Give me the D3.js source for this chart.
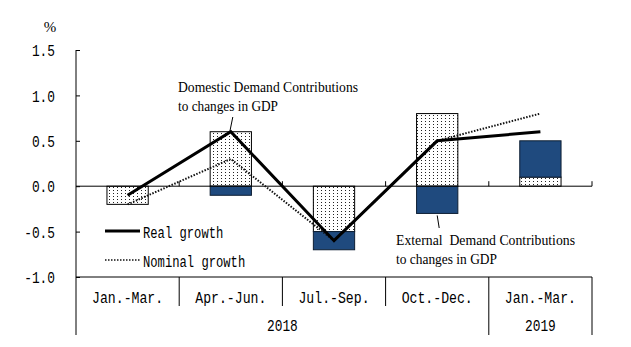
<!DOCTYPE html>
<html>
<head>
<meta charset="utf-8">
<script src="https://cdn.jsdelivr.net/npm/d3@7"></script>
<style>
  body { margin: 0; background: #fff; }
  svg { display: block; }
</style>
</head>
<body>
<svg id="chart" width="631" height="347"></svg>
<script>
// quarters along the bottom, with the year each belongs to
var quarters = ["Jan.-Mar.", "Apr.-Jun.", "Jul.-Sep.", "Oct.-Dec.", "Jan.-Mar."];
var years = ["2018", "2018", "2018", "2018", "2019"];

// contributions to GDP growth (%)
var domestic = [-0.2, 0.6, -0.5, 0.8, 0.1];
var external = [0.0, -0.1, -0.2, -0.3, 0.4];

// growth rates (%)
var realGrowth = [-0.1, 0.6, -0.6, 0.5, 0.6];
var nominalGrowth = [-0.2, 0.3, -0.6, 0.5, 0.8];

var yTicks = [-1.0, -0.5, 0.0, 0.5, 1.0, 1.5];

var svg = d3.select("#chart");
var keys = quarters.map(function (q, i) { return i; });

var x = d3.scaleBand()
    .domain(keys)
    .range([76, 592])
    .paddingInner(0.6)
    .paddingOuter(0.3);

var y = d3.scaleLinear()
    .domain([-1.0, 1.5])
    .range([277, 50]);

var monoFont = "'Liberation Mono', 'DejaVu Sans Mono', monospace";
var serifFont = "'Liberation Serif', 'DejaVu Serif', serif";

// squeezed mono text, a bit like the half-width Mincho of the original
function mono(sel, charW) {
    sel.attr("font-family", monoFont)
        .attr("font-size", 16)
        .attr("lengthAdjust", "spacingAndGlyphs")
        .attr("textLength", function (d) {
            var t = d3.select(this).text();
            return t.length * charW;
        });
}

// dotted fill for the domestic bars
var defs = svg.append("defs");
var pat = defs.append("pattern")
    .attr("id", "dots")
    .attr("width", 4)
    .attr("height", 3)
    .attr("patternUnits", "userSpaceOnUse");
pat.append("rect").attr("width", 4).attr("height", 3).attr("fill", "#fff");
pat.append("rect").attr("x", 1).attr("y", 1).attr("width", 1).attr("height", 1).attr("fill", "#222");

// stacked bars
var rows = keys.map(function (i) {
    return { key: i, domestic: domestic[i], external: external[i] };
});
var series = d3.stack()
    .keys(["domestic", "external"])
    .offset(d3.stackOffsetDiverging)(rows);

var fills = { domestic: "url(#dots)", external: "#1f4a7e" };

series.forEach(function (s) {
    svg.append("g")
        .selectAll("rect")
        .data(s.filter(function (d) { return d[1] !== d[0]; }))
        .enter()
        .append("rect")
        .attr("x", function (d) { return x(d.data.key); })
        .attr("width", x.bandwidth())
        .attr("y", function (d) { return y(Math.max(d[0], d[1])); })
        .attr("height", function (d) { return Math.abs(y(d[0]) - y(d[1])); })
        .attr("fill", fills[s.key])
        .attr("stroke", s.key === "external" ? "#0d1e33" : "#000")
        .attr("stroke-width", 1);
});

// y axis
var yAxis = d3.axisLeft(y)
    .tickValues(yTicks)
    .tickSize(-4)
    .tickSizeOuter(0)
    .tickPadding(21)
    .tickFormat(function (d) { return d.toFixed(1); });

var ga = svg.append("g")
    .attr("transform", "translate(76,0)")
    .call(yAxis);
ga.select(".domain").remove();
ga.selectAll("line").attr("stroke", "#000");
ga.selectAll("text")
    .attr("fill", "#000")
    .attr("dy", "0.35em")
    .call(mono, 7.7);

svg.append("text")
    .attr("x", 50)
    .attr("y", 32)
    .attr("text-anchor", "middle")
    .attr("font-family", serifFont)
    .attr("font-size", 15)
    .text("%");

// frame lines
var step = x.step();
var x0 = x.range()[0];
var bounds = d3.range(quarters.length + 1).map(function (i) { return x0 + i * step; });

svg.append("line")
    .attr("x1", x0).attr("x2", x0)
    .attr("y1", y(1.5)).attr("y2", 335)
    .attr("stroke", "#000");

// zero line with small ticks at quarter boundaries
svg.append("line")
    .attr("x1", x0).attr("x2", bounds[bounds.length - 1])
    .attr("y1", y(0)).attr("y2", y(0))
    .attr("stroke", "#000");
svg.append("g")
    .selectAll("line")
    .data(bounds.slice(1))
    .enter()
    .append("line")
    .attr("x1", function (d) { return d; })
    .attr("x2", function (d) { return d; })
    .attr("y1", y(0))
    .attr("y2", y(0) - 5)
    .attr("stroke", "#000");

// bottom category table
svg.append("line")
    .attr("x1", x0).attr("x2", bounds[bounds.length - 1])
    .attr("y1", y(-1)).attr("y2", y(-1))
    .attr("stroke", "#000");

svg.append("g")
    .selectAll("line")
    .data(bounds.slice(1))
    .enter()
    .append("line")
    .attr("x1", function (d) { return d; })
    .attr("x2", function (d) { return d; })
    .attr("y1", y(-1))
    .attr("y2", function (d, i) {
        var last = i === bounds.length - 2;
        var yearBreak = !last && years[i] !== years[i + 1];
        return (last || yearBreak) ? 335 : 306;
    })
    .attr("stroke", "#000");

svg.append("g")
    .selectAll("text")
    .data(quarters)
    .enter()
    .append("text")
    .attr("x", function (d, i) { return x(i) + x.bandwidth() / 2; })
    .attr("y", 297)
    .attr("dy", "0.35em")
    .attr("text-anchor", "middle")
    .text(function (d) { return d; })
    .call(mono, 7.9);

var yearGroups = d3.groups(keys, function (i) { return years[i]; });
svg.append("g")
    .selectAll("text")
    .data(yearGroups)
    .enter()
    .append("text")
    .attr("x", function (g) {
        var first = g[1][0], last = g[1][g[1].length - 1];
        return (bounds[first] + bounds[last + 1]) / 2;
    })
    .attr("y", 325)
    .attr("dy", "0.35em")
    .attr("text-anchor", "middle")
    .text(function (g) { return g[0]; })
    .call(mono, 7.7);

// growth lines
var cx = function (d, i) { return x(i) + x.bandwidth() / 2; };
var line = d3.line()
    .x(cx)
    .y(function (d) { return y(d); });

svg.append("path")
    .datum(nominalGrowth)
    .attr("d", line)
    .attr("fill", "none")
    .attr("stroke", "#111")
    .attr("stroke-width", 2)
    .attr("stroke-dasharray", "1.5,1.5");

svg.append("path")
    .datum(realGrowth)
    .attr("d", line)
    .attr("fill", "none")
    .attr("stroke", "#000")
    .attr("stroke-width", 3);

// legend
svg.append("line")
    .attr("x1", 105).attr("x2", 140)
    .attr("y1", 231).attr("y2", 231)
    .attr("stroke", "#000")
    .attr("stroke-width", 3);
svg.append("text")
    .attr("x", 143).attr("y", 232)
    .attr("dy", "0.35em")
    .text("Real growth")
    .call(mono, 7.3);

svg.append("line")
    .attr("x1", 105).attr("x2", 140)
    .attr("y1", 260).attr("y2", 260)
    .attr("stroke", "#111")
    .attr("stroke-width", 1.5)
    .attr("stroke-dasharray", "1.5,1.5");
svg.append("text")
    .attr("x", 143).attr("y", 261)
    .attr("dy", "0.35em")
    .text("Nominal growth")
    .call(mono, 7.3);

// annotations
function note(lines, widths, xPos, yPos) {
    svg.append("g")
        .selectAll("text")
        .data(lines)
        .enter()
        .append("text")
        .attr("x", xPos)
        .attr("y", function (d, i) { return yPos + i * 19; })
        .attr("font-family", serifFont)
        .attr("font-size", 14)
        .style("white-space", "pre")
        .attr("lengthAdjust", "spacingAndGlyphs")
        .attr("textLength", function (d, i) { return widths[i]; })
        .text(function (d) { return d; });
}

note(["Domestic Demand Contributions", "to changes in GDP"], [180, 100], 178, 92);
svg.append("line")
    .attr("x1", cx(0, 1) + 2).attr("y1", 117)
    .attr("x2", cx(0, 1) - 1).attr("y2", y(realGrowth[1]))
    .attr("stroke", "#000");

note(["External  Demand Contributions", "to changes in GDP"], [179, 101], 396, 245);
svg.append("line")
    .attr("x1", cx(0, 3)).attr("y1", y(external[3]) + 2)
    .attr("x2", cx(0, 3) + 2).attr("y2", 228)
    .attr("stroke", "#000");
</script>
</body>
</html>
